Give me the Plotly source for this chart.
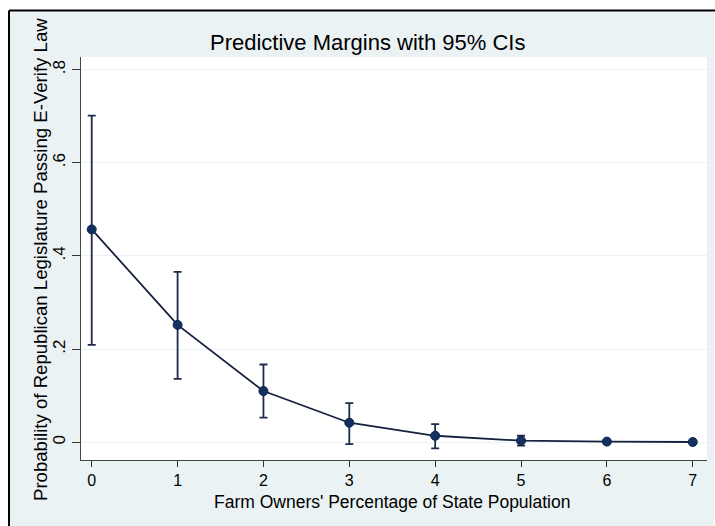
import plotly.graph_objects as go

# Data
farm_pct = [0, 1, 2, 3, 4, 5, 6, 7]
margin = [0.457, 0.252, 0.110, 0.042, 0.014, 0.0035, 0.0015, 0.0006]
ci_upper = [0.701, 0.366, 0.167, 0.084, 0.039, 0.014, 0.004, 0.0015]
ci_lower = [0.209, 0.136, 0.053, -0.004, -0.013, -0.007, -0.001, -0.0003]

y_tickvals = [0, 0.2, 0.4, 0.6, 0.8]
y_ticktext = ["0", ".2", ".4", ".6", ".8"]
x_tickvals = [0, 1, 2, 3, 4, 5, 6, 7]

title_text = "Predictive Margins with 95% CIs"
x_title = "Farm Owners' Percentage of State Population"
y_title = "Probability of Republican Legislature Passing E-Verify Law"

W, H = 715, 526
L, R, T, B = 81, 707, 57, 460  # plot area pixels

def px_x(p):
    return (p - L) / (R - L)

def px_y(p):
    return (B - p) / (B - T)

err_plus = [u - m for u, m in zip(ci_upper, margin)]
err_minus = [m - l for m, l in zip(margin, ci_lower)]

BG = "#EAF2F3"
FONT = "Liberation Sans, Arial, sans-serif"

fig = go.Figure()
fig.add_trace(go.Scatter(
    x=farm_pct, y=margin, mode="lines+markers",
    line=dict(color="#16223d", width=1.8),
    marker=dict(size=9, color="#13305e", line=dict(color="#0e2550", width=1)),
    error_y=dict(type="data", symmetric=False, array=err_plus, arrayminus=err_minus,
                 color="#1e2c4a", thickness=1.8, width=4),
    showlegend=False,
))

shapes = [
    # white strips outside the outer frame
    dict(type="rect", xref="paper", yref="paper", x0=px_x(-5), x1=px_x(9), y0=px_y(W + 50), y1=px_y(-5),
         fillcolor="white", line=dict(width=0), layer="below"),
    dict(type="rect", xref="paper", yref="paper", x0=px_x(-5), x1=px_x(W + 5), y0=px_y(10), y1=px_y(-5),
         fillcolor="white", line=dict(width=0), layer="below"),
    dict(type="rect", xref="paper", yref="paper", x0=px_x(714), x1=px_x(W + 5), y0=px_y(W + 50), y1=px_y(-5),
         fillcolor="white", line=dict(width=0), layer="below"),
    # black frame lines (top and left)
    dict(type="line", xref="paper", yref="paper", x0=px_x(9), x1=px_x(W + 5), y0=px_y(10.5), y1=px_y(10.5),
         line=dict(color="black", width=2), layer="below"),
    dict(type="line", xref="paper", yref="paper", x0=px_x(9), x1=px_x(9), y0=px_y(10.5), y1=px_y(W + 50),
         line=dict(color="black", width=2), layer="below"),
]

annotations = [
    dict(text=title_text, xref="paper", yref="paper", x=px_x(367), y=px_y(43),
         xanchor="center", yanchor="middle", showarrow=False,
         font=dict(family=FONT, size=22, color="black")),
    dict(text=x_title, xref="paper", yref="paper", x=px_x(392), y=px_y(502),
         xanchor="center", yanchor="middle", showarrow=False,
         font=dict(family=FONT, size=17.5, color="black")),
    dict(text=y_title, xref="paper", yref="paper", x=px_x(40), y=px_y(260),
         xanchor="center", yanchor="middle", showarrow=False, textangle=-90,
         font=dict(family=FONT, size=18.6, color="black")),
]

fig.update_layout(
    width=W, height=H,
    margin=dict(l=L, r=W - R, t=T, b=H - B),
    paper_bgcolor=BG, plot_bgcolor="white",
    shapes=shapes, annotations=annotations,
    font=dict(family=FONT, size=14, color="black"),
    xaxis=dict(range=[-0.125, 7.166], tickvals=x_tickvals, ticks="outside", ticklen=6,
               tickcolor="#333333", showline=True, linecolor="#444444", linewidth=1.2,
               showgrid=False, zeroline=False, tickfont=dict(size=16)),
    yaxis=dict(range=[-0.038, 0.827], tickvals=y_tickvals, ticktext=y_ticktext,
               ticks="outside", ticklen=8, tickcolor="#333333", tickangle=-90,
               showline=True, linecolor="#444444", linewidth=1.2,
               showgrid=True, gridcolor=BG, gridwidth=1.2, zeroline=False,
               tickfont=dict(size=17)),
)

fig.write_html("out.html")
